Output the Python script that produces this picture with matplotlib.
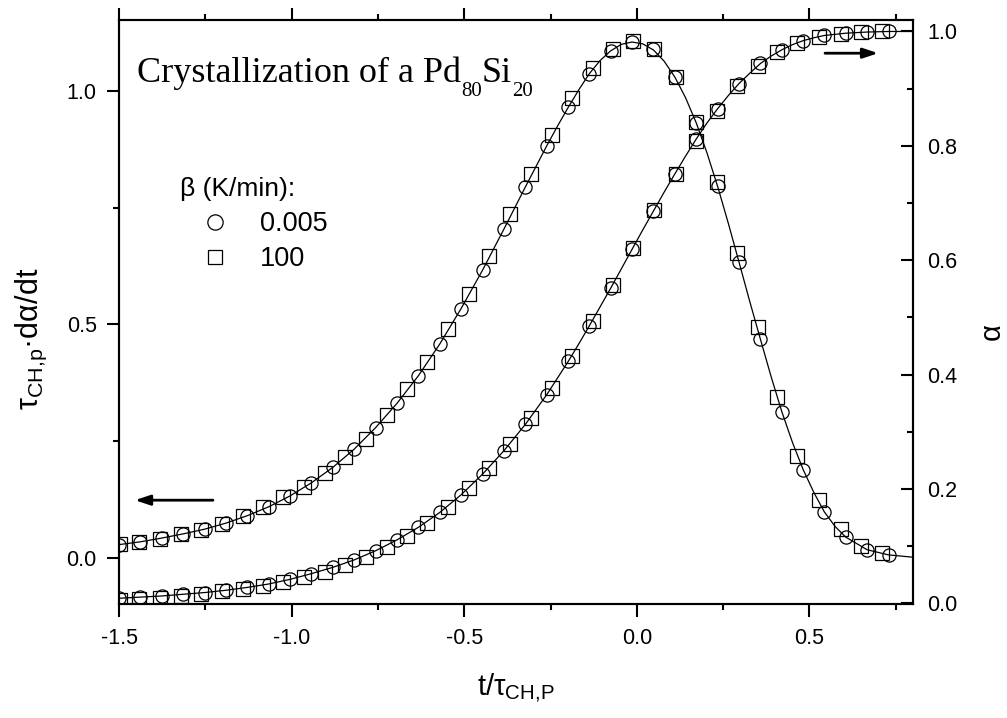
import matplotlib
matplotlib.use('Agg')
import matplotlib.pyplot as plt
from matplotlib.ticker import MultipleLocator

plt.rcParams['font.family'] = ['Liberation Sans', 'DejaVu Sans']
plt.rcParams['mathtext.fontset'] = 'custom'
plt.rcParams['mathtext.rm'] = 'Liberation Serif'
plt.rcParams['mathtext.sf'] = 'Liberation Sans'

# beta = 0.005 K/min (circles)
circ_x = [-1.5, -1.438, -1.376, -1.314, -1.252, -1.19, -1.128, -1.066, -1.005, -0.943,
          -0.881, -0.819, -0.757, -0.695, -0.633, -0.571, -0.509, -0.447, -0.385, -0.323,
          -0.261, -0.199, -0.138, -0.076, -0.014, 0.048, 0.11, 0.172, 0.234, 0.296,
          0.358, 0.42, 0.482, 0.543, 0.605, 0.667, 0.729]
circ_rate = [0.028, 0.035, 0.043, 0.052, 0.062, 0.075, 0.091, 0.110, 0.133, 0.161,
             0.194, 0.233, 0.279, 0.331, 0.390, 0.458, 0.534, 0.616, 0.704, 0.794,
             0.882, 0.964, 1.036, 1.085, 1.104, 1.088, 1.029, 0.931, 0.795, 0.633,
             0.468, 0.313, 0.189, 0.099, 0.045, 0.018, 0.006]
circ_alpha = [0.009, 0.011, 0.013, 0.016, 0.019, 0.023, 0.028, 0.034, 0.042, 0.052,
              0.063, 0.076, 0.092, 0.111, 0.133, 0.159, 0.190, 0.226, 0.267, 0.313,
              0.365, 0.423, 0.485, 0.551, 0.619, 0.686, 0.751, 0.812, 0.865, 0.909,
              0.944, 0.968, 0.984, 0.993, 0.997, 0.999, 1.000]

# beta = 100 K/min (squares)
sq_x = [-1.497, -1.442, -1.381, -1.321, -1.263, -1.202, -1.141, -1.083, -1.025, -0.964,
        -0.904, -0.846, -0.785, -0.724, -0.666, -0.608, -0.547, -0.487, -0.429, -0.368,
        -0.307, -0.247, -0.189, -0.128, -0.07, -0.012, 0.049, 0.113, 0.171, 0.231,
        0.289, 0.35, 0.407, 0.463, 0.529, 0.59, 0.648, 0.709]
sq_rate = [0.030, 0.034, 0.041, 0.051, 0.060, 0.073, 0.090, 0.109, 0.130, 0.152,
           0.182, 0.216, 0.254, 0.306, 0.361, 0.419, 0.490, 0.565, 0.646, 0.736,
           0.821, 0.905, 0.984, 1.048, 1.089, 1.106, 1.089, 1.029, 0.933, 0.804,
           0.652, 0.494, 0.344, 0.218, 0.124, 0.062, 0.026, 0.011]
sq_alpha = [0.006, 0.008, 0.010, 0.013, 0.017, 0.021, 0.026, 0.031, 0.038, 0.046,
            0.055, 0.067, 0.081, 0.098, 0.118, 0.141, 0.168, 0.201, 0.237, 0.278,
            0.324, 0.376, 0.433, 0.494, 0.557, 0.621, 0.687, 0.750, 0.809, 0.861,
            0.905, 0.940, 0.964, 0.980, 0.991, 0.996, 0.999, 1.000]

# fitted curves (solid lines)
fit_x = [-1.5, -1.438, -1.376, -1.314, -1.252, -1.19, -1.128, -1.066, -1.005, -0.943,
         -0.881, -0.819, -0.757, -0.695, -0.633, -0.571, -0.509, -0.447, -0.385, -0.323,
         -0.261, -0.23, -0.199, -0.168, -0.138, -0.107, -0.076, -0.045, -0.014, 0.017,
         0.048, 0.079, 0.11, 0.141, 0.172, 0.203, 0.234, 0.265, 0.296, 0.327,
         0.358, 0.389, 0.42, 0.451, 0.482, 0.513, 0.543, 0.574, 0.605, 0.667,
         0.729, 0.8]
fit_rate = [0.029, 0.035, 0.043, 0.052, 0.062, 0.075, 0.091, 0.110, 0.133, 0.161,
            0.194, 0.233, 0.279, 0.331, 0.390, 0.458, 0.534, 0.616, 0.704, 0.794,
            0.882, 0.924, 0.964, 1.002, 1.036, 1.064, 1.085, 1.099, 1.104, 1.100,
            1.087, 1.063, 1.029, 0.985, 0.931, 0.867, 0.795, 0.716, 0.633, 0.549,
            0.468, 0.388, 0.313, 0.247, 0.189, 0.140, 0.099, 0.068, 0.045, 0.018,
            0.007, 0.002]
fit_alpha = [0.009, 0.011, 0.013, 0.016, 0.019, 0.023, 0.028, 0.034, 0.042, 0.052,
             0.063, 0.076, 0.092, 0.111, 0.133, 0.159, 0.190, 0.226, 0.267, 0.313,
             0.365, 0.394, 0.423, 0.454, 0.485, 0.518, 0.551, 0.585, 0.619, 0.653,
             0.686, 0.719, 0.751, 0.782, 0.812, 0.840, 0.865, 0.888, 0.909, 0.927,
             0.944, 0.957, 0.968, 0.977, 0.984, 0.989, 0.993, 0.995, 0.997, 0.999,
             1.000, 1.000]

legend_title = 'β (K/min):'
legend_labels = ['0.005', '100']
title_parts = [('Crystallization of a Pd', False), ('80', True), ('Si', False), ('20', True)]

W, H = 1007, 718
fig = plt.figure(figsize=(W / 100, H / 100), dpi=100)
ax = fig.add_axes([0.1182, 0.1588, 0.7885, 0.8133])
ax2 = ax.twinx()

mk = dict(linestyle='none', markerfacecolor='none', markeredgecolor='k',
          markeredgewidth=0.9, markersize=9.5)

ax.plot(fit_x, fit_rate, color='k', lw=0.9)
ax.plot(circ_x, circ_rate, marker='o', **mk)
ax.plot(sq_x, sq_rate, marker='s', **mk)

ax2.plot(fit_x, fit_alpha, color='k', lw=0.9)
ax2.plot(circ_x, circ_alpha, marker='o', **mk)
ax2.plot(sq_x, sq_alpha, marker='s', **mk)

ax.set_xlim(-1.5, 0.8)
ax.set_ylim(-0.098, 1.151)
ax2.set_ylim(-0.001, 1.02)

ax.xaxis.set_major_locator(MultipleLocator(0.5))
ax.xaxis.set_minor_locator(MultipleLocator(0.25))
ax.yaxis.set_major_locator(MultipleLocator(0.5))
ax.yaxis.set_minor_locator(MultipleLocator(0.25))
ax2.yaxis.set_major_locator(MultipleLocator(0.2))
ax2.yaxis.set_minor_locator(MultipleLocator(0.1))

ax.tick_params(axis='x', which='both', direction='out', top=True, labelsize=15.5, pad=8, width=1.5)
ax.tick_params(axis='y', which='both', direction='out', labelsize=15.5, pad=7, width=1.5)
ax.tick_params(which='major', length=9)
ax.tick_params(which='minor', length=4.5)
ax2.tick_params(axis='y', which='both', direction='in', labelsize=15.5, pad=10, width=1.5)
ax2.tick_params(which='major', length=9)
ax2.tick_params(which='minor', length=4.5)
fmt = plt.FuncFormatter(lambda v, p: f'{v:.1f}')
ax.xaxis.set_major_formatter(fmt)
ax.yaxis.set_major_formatter(fmt)
ax2.yaxis.set_major_formatter(fmt)

for a in (ax, ax2):
    for s in a.spines.values():
        s.set_linewidth(1.5)

fig.text(516 / W, 1 - 687 / H, r't/τ$_{\mathsf{CH{,}P}}$', fontsize=21, ha='center', va='center')
fig.text(31 / W, 1 - 339 / H, r'τ$_{\mathsf{CH{,}p}}$·dα/dt', fontsize=22, rotation=90,
         ha='center', va='center')
fig.text(992 / W, 1 - 332 / H, 'α', fontsize=21, rotation=90, ha='center', va='center')

# title with hand-placed subscripts
renderer = fig.canvas.get_renderer()
x_px = 137
for s, sub in title_parts:
    base = 96 if sub else 82
    t = fig.text(x_px / W, 1 - base / H, s, fontsize=15 if sub else 26,
                 family='Liberation Serif', va='baseline', ha='left')
    x_px = t.get_window_extent(renderer).x1

# legend drawn by hand
ax.text(0.0768, 0.699, legend_title, transform=ax.transAxes, fontsize=19, va='baseline')
ax.plot([0.1209], [0.654], marker='o', transform=ax.transAxes, markersize=11,
        markerfacecolor='none', markeredgecolor='k', markeredgewidth=0.9, linestyle='none')
ax.plot([0.1209], [0.594], marker='s', transform=ax.transAxes, markersize=10,
        markerfacecolor='none', markeredgecolor='k', markeredgewidth=0.9, linestyle='none')
ax.text(0.1776, 0.639, legend_labels[0], transform=ax.transAxes, fontsize=19.5, va='baseline')
ax.text(0.1776, 0.579, legend_labels[1], transform=ax.transAxes, fontsize=19.5, va='baseline')

arr = dict(arrowstyle='-|>,head_length=0.45,head_width=0.15', color='k', lw=2,
           mutation_scale=20, shrinkA=0, shrinkB=0)
ax.annotate('', xy=(-1.454, 0.124), xytext=(-1.228, 0.124), arrowprops=arr)
ax2.annotate('', xy=(0.699, 0.962), xytext=(0.545, 0.962), arrowprops=arr)

fig.savefig('out.png', dpi=100)
